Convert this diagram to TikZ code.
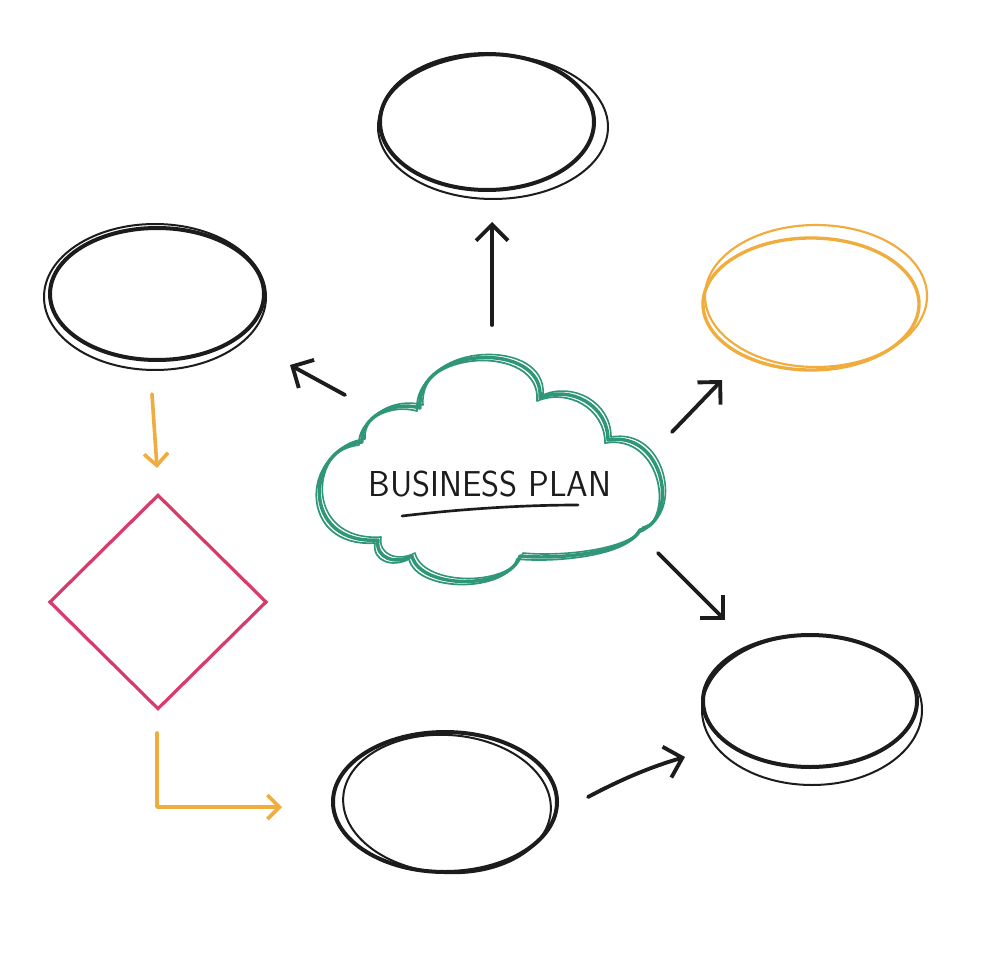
\documentclass[tikz,border=0pt]{standalone}
\usepackage{graphicx}
\usetikzlibrary{shapes.geometric,arrows.meta}
\definecolor{ink}{HTML}{1C1C1C}
\definecolor{orng}{HTML}{F0AC3C}
\definecolor{pnk}{HTML}{D93A6C}
\definecolor{grn}{HTML}{2F9677}
\tikzset{
  thickell/.style={ellipse, draw=ink, line width=3pt, inner sep=0pt, outer sep=0pt},
  thinell/.style={draw=ink, line width=1.5pt},
  blackarrow/.style={draw=ink, line width=2.9pt, line cap=round, line join=round, -{Straight Barb[length=12pt,width=24pt]}},
  orangearrow/.style={draw=orng, line width=2.7pt, line cap=round, line join=round, -{Straight Barb[length=9pt,width=18pt]}},
}
\begin{document}
\begin{tikzpicture}[x=0.75pt,y=-0.75pt]
\useasboundingbox (0,0) rectangle (980,980);
\fill[white] (0,0) rectangle (980,980);

% ellipses
\node[thickell, minimum width=160.5pt, minimum height=102pt] (top) at (487,122) {};
\draw[thinell] (493,127) ellipse [x radius=86.25pt, y radius=54pt];

\node[thickell, minimum width=160.5pt, minimum height=99pt] (left) at (157,294) {};
\draw[thinell] (155,297) ellipse [x radius=83.25pt, y radius=54.75pt];

\node[ellipse, draw=orng, line width=2.5pt, inner sep=0pt, minimum width=162pt, minimum height=99pt] (right) at (811,304) {};
\draw[orng, line width=1.6pt] (816,296) ellipse [x radius=83.25pt, y radius=53.25pt];

\node[thickell, minimum width=160.5pt, minimum height=99pt] (bright) at (810,701) {};
\draw[thinell] (812,710) ellipse [x radius=82.5pt, y radius=56.25pt];

\node[thickell, minimum width=168pt, minimum height=105pt] (bottom) at (445,802) {};
\draw[thinell, rotate around={-4:(447,804)}] (447,804) ellipse [x radius=78pt, y radius=51.75pt];

% diamond
\node[diamond, draw=pnk, line width=2.4pt, inner sep=0pt, minimum width=163pt, minimum height=161pt] (dec) at (158,602) {};

% cloud
\node[inner sep=0pt, minimum width=255pt, minimum height=170pt] (cloud) at (490,465) {};
\foreach \dx/\dy/\lw in {0/0/2.6pt, -3/3/1.3pt, 3/-3/1.2pt} {
  \draw[grn, line width=\lw, line join=round, shift={(\dx,\dy)}]
    (378,540)
    .. controls (300,545) and (305,448) .. (362,442)
    .. controls (360,418) and (392,400) .. (420,408)
    .. controls (415,345) and (545,340) .. (540,398)
    .. controls (570,385) and (608,405) .. (608,440)
    .. controls (665,430) and (680,520) .. (640,530)
    .. controls (630,552) and (560,560) .. (520,556)
    .. controls (510,590) and (420,590) .. (412,556)
    .. controls (395,565) and (375,558) .. (378,540) -- cycle;
}
\node[inner sep=0pt, text=ink, font=\sffamily\fontsize{27}{30}\selectfont] (title) at (490,484) {\scalebox{0.96}[1]{BUSINESS PLAN}};
\coordinate (u1) at (402,516);
\coordinate (u2) at (578,505);
\draw[ink, line width=2pt, line cap=round] (u1) .. controls (470,508) and (530,505) .. (u2);

% black arrows
\coordinate (t1) at (492,325); \coordinate (t2) at (492,222);
\coordinate (l1) at (345,395); \coordinate (l2) at (290,365);
\coordinate (r1) at (672,432); \coordinate (r2) at (722,380);
\coordinate (b1) at (658,553); \coordinate (b2) at (725,620);
\coordinate (m1) at (588,797); \coordinate (m2) at (685,757);
\draw[blackarrow] (t1) -- (t2);
\draw[blackarrow] (l1) -- (l2);
\draw[blackarrow] (r1) -- (r2);
\draw[blackarrow] (b1) -- (b2);
\draw[blackarrow] (m1) .. controls (620,780) and (650,767) .. (m2);

% orange arrows
\coordinate (o1) at (152,394); \coordinate (o2) at (157,468);
\coordinate (e1) at (157,733); \coordinate (e2) at (157,807); \coordinate (e3) at (282,807);
\draw[orangearrow] (o1) -- (o2);
\draw[orangearrow] (e1) -- (e2) -- (e3);
\end{tikzpicture}
\end{document}
